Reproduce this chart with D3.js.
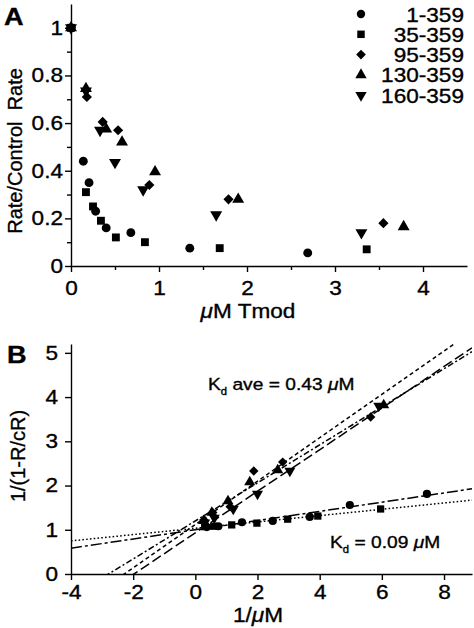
<!DOCTYPE html>
<html><head><meta charset="utf-8">
<script src="https://cdn.jsdelivr.net/npm/d3@7"></script>
<style>
body{margin:0;background:#fff}
svg{display:block}
text{font-family:"Liberation Sans",Arial,Helvetica,sans-serif;fill:#000;stroke:#000;stroke-width:0.35px}
</style>
</head><body>
<svg id="c" width="474" height="628"></svg>
<script>
// ---------- DATA: panel A ----------
const seriesNames = ["1-359", "35-359", "95-359", "130-359", "160-359"];
const shapes = ["circle", "square", "diamond", "triangle", "invtri"];
const tmodA1 = [0, 0.14, 0.205, 0.28, 0.40, 0.68, 1.35, 2.69];
const rateA1 = [1, 0.44, 0.35, 0.23, 0.16, 0.14, 0.075, 0.055];
const tmodA2 = [0, 0.17, 0.25, 0.34, 0.51, 0.84, 1.69, 3.36];
const rateA2 = [1, 0.31, 0.25, 0.19, 0.12, 0.10, 0.075, 0.07];
const tmodA3 = [0, 0.18, 0.36, 0.535, 0.89, 1.79, 3.55];
const rateA3 = [1, 0.71, 0.605, 0.57, 0.34, 0.28, 0.18];
const tmodA4 = [0, 0.17, 0.40, 0.58, 0.955, 1.90, 3.78];
const rateA4 = [1, 0.745, 0.575, 0.52, 0.395, 0.28, 0.165];
const tmodA5 = [0, 0.17, 0.33, 0.50, 0.82, 1.65, 3.30];
const rateA5 = [1, 0.735, 0.57, 0.435, 0.32, 0.215, 0.14];
const xTicksA = [0, 1, 2, 3, 4];
const xMinorA = [0.5, 1.5, 2.5, 3.5];
const yTicksA = [0, 0.2, 0.4, 0.6, 0.8, 1];
const yMinorA = [0.1, 0.3, 0.5, 0.7, 0.9];

// ---------- DATA: panel B ----------
const invB1 = [0.37, 0.74, 1.5, 2.49, 3.68, 4.97, 7.45];
const valB1 = [1.06, 1.08, 1.17, 1.20, 1.29, 1.56, 1.81];
const invB2 = [0.30, 0.59, 1.17, 1.98, 2.97, 3.94, 5.96];
const valB2 = [1.07, 1.08, 1.11, 1.15, 1.24, 1.31, 1.47];
const invB3 = [0.28, 0.56, 1.12, 1.88, 2.81, 5.64];
const valB3 = [1.22, 1.39, 1.52, 2.33, 2.53, 3.55];
const invB4 = [0.26, 0.53, 1.05, 1.75, 2.65, 6.06];
const valB4 = [1.20, 1.39, 1.65, 2.08, 2.35, 3.82];
const invB5 = [0.30, 0.61, 1.22, 2.00, 3.04, 5.90];
const valB5 = [1.16, 1.27, 1.47, 1.81, 2.33, 3.80];
// linear fits: y = intercept + slope * x
const fitSlope = [0.104, 0.0715, 0.43, 0.49, 0.47];
const fitIntercept = [1.0, 1.034, 1.2, 1.12, 0.93];
const xTicksB = [-4, -2, 0, 2, 4, 6, 8];
const yTicksB = [0, 1, 2, 3, 4, 5];

// ---------- drawing ----------
const svg = d3.select("#c");
svg.append("rect").attr("width", 474).attr("height", 628).attr("fill", "#fff");
const SX = 1.13;

function stext(x, y, str, size, anchor, weight) {
  return svg.append("text")
    .attr("transform", `translate(${x},${y}) scale(${SX},1)`)
    .attr("font-size", size).attr("text-anchor", anchor || "start")
    .attr("font-weight", weight || "normal").text(str);
}

const symBase = {
  circle: d3.symbol().type(d3.symbolCircle),
  square: d3.symbol().type(d3.symbolSquare),
  diamond: d3.symbol().type(d3.symbolSquare),
  triangle: d3.symbol().type(d3.symbolTriangle),
  invtri: d3.symbol().type(d3.symbolTriangle)
};
const symRot = {circle: 0, square: 0, diamond: 45, triangle: 0, invtri: 180};
function marker(g, shape, x, y, k) {
  const sz = {circle: 62, square: 62, diamond: 52, triangle: 62, invtri: 62}[shape] * k;
  g.append("path").attr("d", symBase[shape].size(sz)())
    .attr("transform", `translate(${x},${y}) rotate(${symRot[shape]})`)
    .attr("fill", "#000");
}

function styleAxis(g, left) {
  g.select(".domain").attr("stroke", "#000").attr("stroke-width", 1.4);
  g.selectAll(".tick line").attr("stroke", "#000").attr("stroke-width", 1.4);
  g.selectAll(".tick text").attr("font-size", 20).attr("fill", "#000")
    .attr("font-family", '"Liberation Sans",Arial,Helvetica,sans-serif')
    .each(function() {
      const t = d3.select(this);
      if (left) {
        t.attr("x", (+t.attr("x")) / SX).attr("transform", `scale(${SX},1)`);
      } else {
        t.attr("transform", `scale(${SX},1)`);
      }
    });
}

// ===== Panel A =====
const xA = d3.scaleLinear().domain([0, 4.5]).range([71, 467]);
const yA = d3.scaleLinear().domain([0, 1.1]).range([266, 4]);

const gxA = svg.append("g").attr("transform", `translate(0,${yA(0)})`)
  .call(d3.axisBottom(xA).tickValues(xTicksA).tickSize(6).tickSizeOuter(0).tickPadding(9).tickFormat(d => String(d)));
styleAxis(gxA, false);
const gxAm = svg.append("g").attr("transform", `translate(0,${yA(0)})`)
  .call(d3.axisBottom(xA).tickValues(xMinorA).tickSize(4).tickFormat(""));
gxAm.select(".domain").remove();
gxAm.selectAll(".tick line").attr("stroke", "#000").attr("stroke-width", 1.4);

const gyA = svg.append("g").attr("transform", `translate(${xA(0)},0)`)
  .call(d3.axisLeft(yA).tickValues(yTicksA).tickSize(6).tickSizeOuter(0).tickPadding(2)
    .tickFormat(d => d === 0 ? "0" : d === 1 ? "1" : d.toFixed(1)));
styleAxis(gyA, true);
const gyAm = svg.append("g").attr("transform", `translate(${xA(0)},0)`)
  .call(d3.axisLeft(yA).tickValues(yMinorA).tickSize(4).tickFormat(""));
gyAm.select(".domain").remove();
gyAm.selectAll(".tick line").attr("stroke", "#000").attr("stroke-width", 1.4);

const dataA = [[tmodA1, rateA1], [tmodA2, rateA2], [tmodA3, rateA3], [tmodA4, rateA4], [tmodA5, rateA5]];
const gA = svg.append("g");
dataA.forEach((s, i) => {
  s[0].forEach((v, j) => marker(gA, shapes[i], xA(v), yA(s[1][j]), 1));
});

// legend
const gL = svg.append("g");
seriesNames.forEach((n, i) => {
  const cy = 14 + i * 20.3;
  marker(gL, shapes[i], 361, cy, 0.9);
  stext(464, cy + 7.5, n, 20, "end");
});

// labels A
stext(4, 25, "A", 24, "start", "bold");
svg.append("text").attr("transform", "translate(22,151) rotate(-90)")
  .attr("font-size", 20).attr("text-anchor", "middle").attr("xml:space", "preserve")
  .text("Rate/Control  Rate");
const xlabA = svg.append("text").attr("transform", `translate(248,318) scale(${SX},1)`)
  .attr("font-size", 20).attr("text-anchor", "middle");
xlabA.append("tspan").attr("font-style", "italic").text("\u03bc");
xlabA.append("tspan").text("M  Tmod");

// ===== Panel B =====
const xB = d3.scaleLinear().domain([-4, 8.9]).range([71, 472]);
const yB = d3.scaleLinear().domain([0, 5.2]).range([574, 344]);

svg.append("clipPath").attr("id", "clipB").append("rect")
  .attr("x", xB(-4)).attr("y", yB(5.2)).attr("width", xB(8.9) - xB(-4)).attr("height", yB(0) - yB(5.2));

const gxB = svg.append("g").attr("transform", `translate(0,${yB(0)})`)
  .call(d3.axisBottom(xB).tickValues(xTicksB).tickSize(6).tickSizeOuter(0).tickPadding(5).tickFormat(d => String(d)));
styleAxis(gxB, false);
const gyB = svg.append("g").attr("transform", `translate(${xB(-4)},0)`)
  .call(d3.axisLeft(yB).tickValues(yTicksB).tickSize(6).tickSizeOuter(0).tickPadding(7).tickFormat(d => String(d)));
styleAxis(gyB, true);

const dashes = ["11,3,3,3", "1.6,2.2", "6,2.5,2,2.5", "4,3", "10,4"];
const gLines = svg.append("g").attr("clip-path", "url(#clipB)");
fitSlope.forEach((m, i) => {
  const b = fitIntercept[i];
  const x0 = -4, x1 = 8.9;
  gLines.append("line")
    .attr("x1", xB(x0)).attr("y1", yB(b + m * x0))
    .attr("x2", xB(x1)).attr("y2", yB(b + m * x1))
    .attr("stroke", "#000").attr("stroke-width", 1.5)
    .attr("stroke-dasharray", dashes[i]);
});

const dataB = [[invB1, valB1], [invB2, valB2], [invB3, valB3], [invB4, valB4], [invB5, valB5]];
const gB = svg.append("g");
dataB.forEach((s, i) => {
  s[0].forEach((v, j) => marker(gB, shapes[i], xB(v), yB(s[1][j]), 0.85));
});

// labels B
stext(7, 363, "B", 24, "start", "bold");
svg.append("text").attr("transform", "translate(25,456) rotate(-90)")
  .attr("font-size", 20).attr("text-anchor", "middle").text("1/(1-R/cR)");
const xlabB = svg.append("text").attr("transform", `translate(258,622) scale(${SX},1)`)
  .attr("font-size", 20).attr("text-anchor", "middle");
xlabB.append("tspan").text("1/");
xlabB.append("tspan").attr("font-style", "italic").text("\u03bc");
xlabB.append("tspan").text("M");

function kdLabel(x, y, rest) {
  const t = svg.append("text").attr("transform", `translate(${x},${y}) scale(${SX},1)`)
    .attr("font-size", 17).attr("xml:space", "preserve");
  t.append("tspan").text("K");
  t.append("tspan").attr("font-size", 10).attr("dy", 5).text("d");
  t.append("tspan").attr("dy", -5).text(rest[0]);
  t.append("tspan").attr("font-style", "italic").text("\u03bc");
  t.append("tspan").text("M");
}
kdLabel(208, 390, [" ave = 0.43 "]);
kdLabel(330, 548, [" = 0.09 "]);
</script>
</body></html>
